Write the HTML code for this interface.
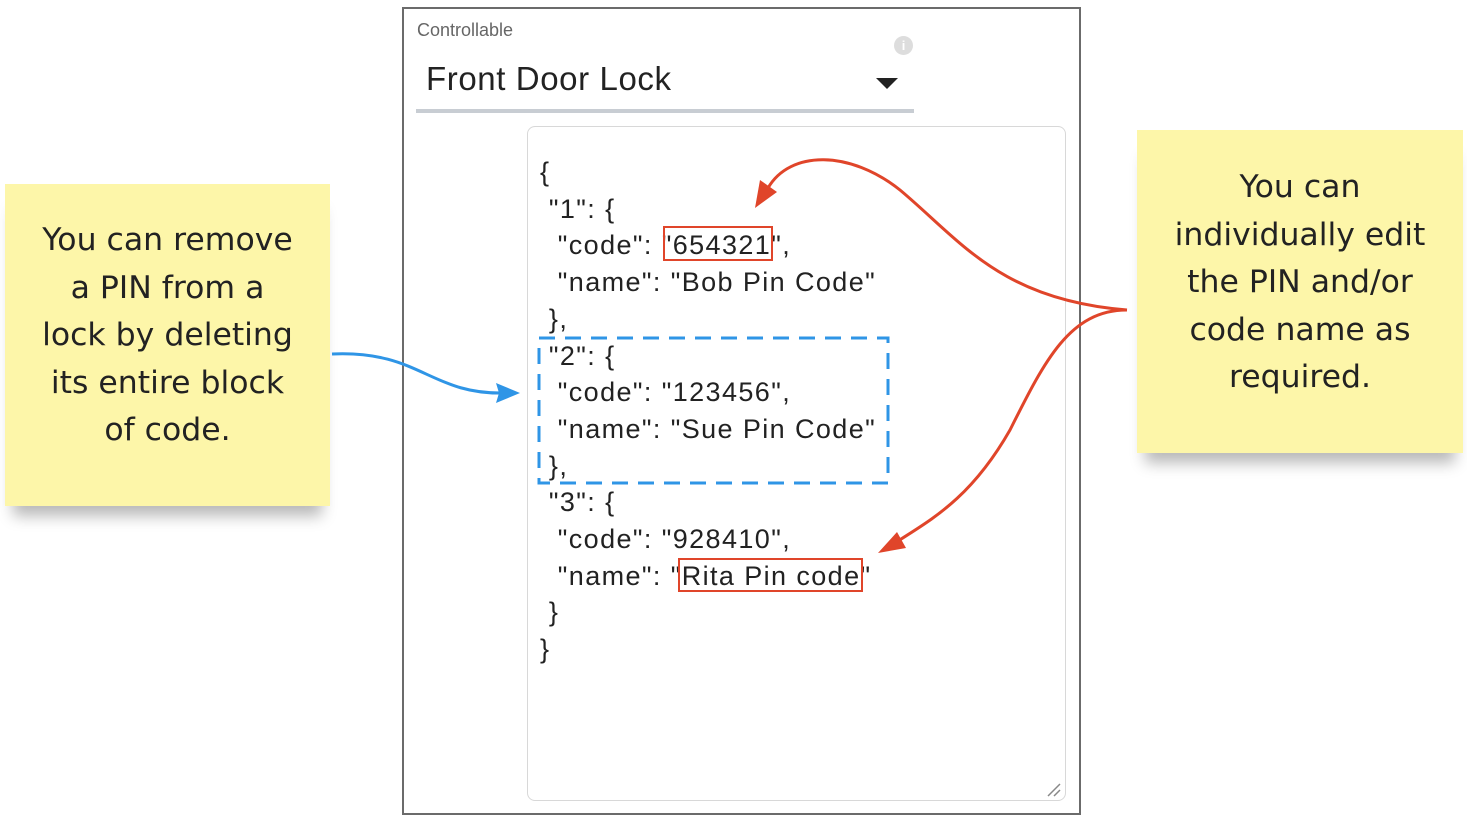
<!DOCTYPE html>
<html><head><meta charset="utf-8"><style>
body{margin:0;width:1467px;height:825px;background:#fff;position:relative;overflow:hidden;font-family:"Liberation Sans",sans-serif}
.panel{position:absolute;left:402px;top:7px;width:675px;height:804px;border:2px solid #6b6b6b}
.sticky{position:absolute;background:#fdf6a9;box-shadow:0 18px 14px -8px rgba(0,0,0,0.28);color:#222;font-family:"DejaVu Sans","Liberation Sans",sans-serif;font-size:31.5px;line-height:47.5px;text-align:center;box-sizing:border-box}
.code{position:absolute;left:540px;top:154px;font-size:27px;line-height:36.7px;color:#222;white-space:pre;font-family:"Liberation Sans",sans-serif;letter-spacing:1.4px}
</style></head><body>
<div class="sticky" style="left:5px;top:184px;width:325px;height:322px;padding-top:33px">You can remove<br>a PIN from a<br>lock by deleting<br>its entire block<br>of code.</div>
<div class="sticky" style="left:1137px;top:130px;width:326px;height:323px;padding-top:34px">You can<br>individually edit<br>the PIN and/or<br>code name as<br>required.</div>
<div class="panel"></div>
<div style="position:absolute;left:417px;top:20px;font-size:18px;color:#666">Controllable</div>
<div style="position:absolute;left:894px;top:36px;width:19px;height:19px;border-radius:50%;background:#ddd;color:#fff;font-size:13px;text-align:center;line-height:19px;font-weight:bold">i</div>
<div style="position:absolute;left:426px;top:60px;font-size:33px;color:#222;letter-spacing:0.6px">Front Door Lock</div>
<div style="position:absolute;left:876px;top:78px;width:0;height:0;border-left:11px solid transparent;border-right:11px solid transparent;border-top:11px solid #222"></div>
<div style="position:absolute;left:416px;top:109px;width:498px;height:4px;background:#c8cdd3"></div>
<div style="position:absolute;left:527px;top:126px;width:537px;height:673px;border:1.5px solid #d8d8d8;border-radius:8px"></div>
<div class="code">{
 "1": {
  "code": "654321",
  "name": "Bob Pin Code"
 },
 "2": {
  "code": "123456",
  "name": "Sue Pin Code"
 },
 "3": {
  "code": "928410",
  "name": "Rita Pin code"
 }
}</div>
<svg width="1467" height="825" style="position:absolute;left:0;top:0">
<rect x="664" y="227" width="108" height="33" fill="none" stroke="#e0452a" stroke-width="2"/>
<rect x="679" y="559" width="183" height="32" fill="none" stroke="#e0452a" stroke-width="2"/>
<rect x="539" y="338" width="349" height="145" fill="none" stroke="#2f95e6" stroke-width="3" stroke-dasharray="16,10"/>
<path d="M1048 796 L1060 784 M1054 796 L1060 790" stroke="#888" stroke-width="1.5"/>
<path d="M332 354 C420 350 430 395 505 393" fill="none" stroke="#2f95e6" stroke-width="3"/>
<path d="M520 393 L496 383 L499 393 L496 403 Z" fill="#2f95e6"/>
<path d="M1127 310 C1000 300 960 240 900 190 C850 150 790 150 768 188" fill="none" stroke="#e0452a" stroke-width="3"/>
<path d="M755 208 L760 180 L777 192 Z" fill="#e0452a"/>
<path d="M1127 310 C1070 310 1045 360 1010 430 C970 500 930 520 895 543" fill="none" stroke="#e0452a" stroke-width="3"/>
<path d="M878 553 L897 532 L906 548 Z" fill="#e0452a"/>
</svg>
</body></html>
